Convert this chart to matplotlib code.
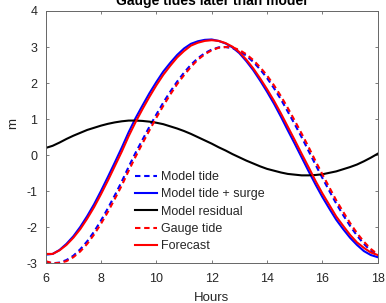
import matplotlib
matplotlib.use("Agg")
import matplotlib.pyplot as plt

plt.rcParams['font.family'] = ['Liberation Sans', 'DejaVu Sans']
plt.rcParams['axes.unicode_minus'] = False

# hours, quarter-hour steps from 6 to 18
hours = [6.0, 6.25, 6.5, 6.75, 7.0, 7.25, 7.5, 7.75, 8.0, 8.25, 8.5, 8.75,
         9.0, 9.25, 9.5, 9.75, 10.0, 10.25, 10.5, 10.75, 11.0, 11.25, 11.5, 11.75,
         12.0, 12.25, 12.5, 12.75, 13.0, 13.25, 13.5, 13.75, 14.0, 14.25, 14.5, 14.75,
         15.0, 15.25, 15.5, 15.75, 16.0, 16.25, 16.5, 16.75, 17.0, 17.25, 17.5, 17.75, 18.0]

model_tide = [-2.96, -3.00, -2.98, -2.91, -2.79, -2.61, -2.39, -2.12, -1.81, -1.47, -1.11, -0.73,
              -0.32, 0.07, 0.43, 0.79, 1.13, 1.46, 1.76, 2.04, 2.29, 2.51, 2.69, 2.83,
              2.93, 2.99, 3.00, 2.97, 2.89, 2.76, 2.59, 2.38, 2.14, 1.86, 1.55, 1.21,
              0.86, 0.50, 0.12, -0.26, -0.63, -0.99, -1.34, -1.66, -1.96, -2.23, -2.46, -2.65, -2.79]

model_surge = [-2.76, -2.74, -2.63, -2.46, -2.25, -1.99, -1.69, -1.36, -0.99, -0.60, -0.20, 0.21,
               0.64, 1.03, 1.38, 1.72, 2.03, 2.32, 2.56, 2.78, 2.96, 3.09, 3.16, 3.20,
               3.21, 3.17, 3.10, 2.99, 2.83, 2.61, 2.36, 2.07, 1.76, 1.43, 1.07, 0.69,
               0.32, -0.06, -0.44, -0.81, -1.16, -1.48, -1.79, -2.05, -2.29, -2.49, -2.66, -2.77, -2.83]

residual = [0.20, 0.26, 0.35, 0.45, 0.54, 0.62, 0.70, 0.76, 0.82, 0.87, 0.91, 0.94,
            0.96, 0.96, 0.95, 0.93, 0.90, 0.86, 0.80, 0.74, 0.67, 0.59, 0.50, 0.41,
            0.32, 0.22, 0.13, 0.03, -0.06, -0.15, -0.23, -0.31, -0.38, -0.43, -0.48, -0.52,
            -0.54, -0.56, -0.56, -0.55, -0.53, -0.49, -0.45, -0.39, -0.33, -0.26, -0.17, -0.07, 0.04]

gauge_tide = [-2.94, -3.00, -2.99, -2.94, -2.83, -2.67, -2.46, -2.20, -1.90, -1.57, -1.21, -0.84,
              -0.43, -0.04, 0.33, 0.69, 1.04, 1.37, 1.68, 1.97, 2.22, 2.45, 2.65, 2.80,
              2.91, 2.98, 3.00, 2.99, 2.92, 2.80, 2.64, 2.44, 2.21, 1.94, 1.64, 1.31,
              0.96, 0.60, 0.23, -0.16, -0.53, -0.89, -1.25, -1.57, -1.88, -2.16, -2.40, -2.60, -2.75]

forecast = [-2.74, -2.74, -2.64, -2.49, -2.29, -2.05, -1.76, -1.44, -1.08, -0.70, -0.30, 0.10,
            0.53, 0.92, 1.28, 1.62, 1.94, 2.23, 2.48, 2.71, 2.89, 3.04, 3.12, 3.17,
            3.19, 3.17, 3.11, 3.01, 2.86, 2.65, 2.41, 2.13, 1.83, 1.51, 1.16, 0.79,
            0.42, 0.04, -0.33, -0.71, -1.06, -1.38, -1.70, -1.96, -2.21, -2.42, -2.57, -2.70, -2.77]

txt = '#262626'
dash = (0, (2.6, 1.8))

fig = plt.figure(figsize=(3.86, 3.03), dpi=100)
ax = fig.add_axes([0.1184, 0.131, 0.8601, 0.8327])

ax.plot(hours, model_tide, color='#0000ff', lw=1.5, linestyle=dash, label='Model tide')
ax.plot(hours, model_surge, color='#0000ff', lw=1.5, label='Model tide + surge')
ax.plot(hours, residual, color='black', lw=1.5, label='Model residual')
ax.plot(hours, gauge_tide, color='#ff0000', lw=1.5, linestyle=dash, label='Gauge tide')
ax.plot(hours, forecast, color='#ff0000', lw=1.5, label='Forecast')

ax.set_xlim(6, 18)
ax.set_ylim(-3, 4)
ax.set_xticks(range(6, 19, 2))
ax.set_yticks(range(-3, 5))

for s in ax.spines.values():
    s.set_color('#666666')
    s.set_linewidth(0.7)
ax.tick_params(direction='in', length=2.5, width=0.6, color='#666666',
               top=True, right=True, labelsize=9, labelcolor=txt)
ax.tick_params(axis='x', pad=7)
ax.tick_params(axis='y', pad=6)

ax.set_xlabel('Hours', fontsize=9.5, color=txt, labelpad=5)
ax.set_ylabel('m', fontsize=9.5, color=txt)
ax.yaxis.set_label_coords(-0.079, 0.556)
ax.set_title('Gauge tides later than model', fontsize=10, fontweight='bold', color='black', pad=4)

ax.legend(loc='upper left', bbox_to_anchor=(0.269, 0.365), frameon=False, fontsize=9,
          borderaxespad=0, borderpad=0, handlelength=1.75, handletextpad=0.35,
          labelspacing=0.42, labelcolor=txt)

fig.savefig('out.png', dpi=100)
